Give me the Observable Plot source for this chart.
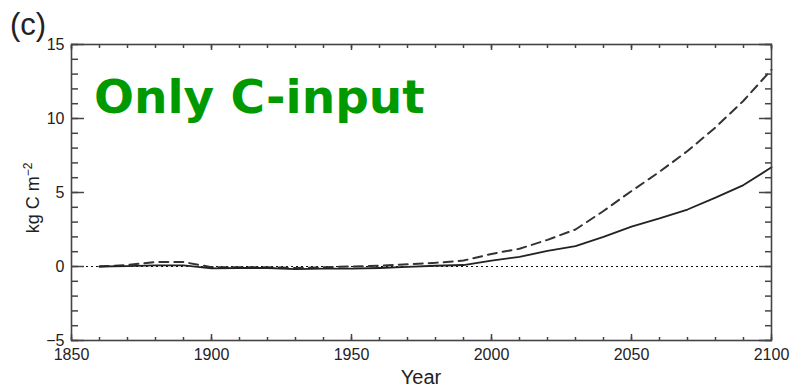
<!DOCTYPE html>
<html>
<head>
<meta charset="utf-8">
<script src="https://cdn.jsdelivr.net/npm/d3@7"></script>
<script src="https://cdn.jsdelivr.net/npm/@observablehq/plot@0.6"></script>
<style>
  html, body { margin: 0; padding: 0; background: #fff; }
  #chart svg { display: block; }
</style>
</head>
<body>
<div id="chart"></div>
<script>
// Simulated carbon change, kg C per square metre, by decade
const years = [1860, 1870, 1880, 1890, 1900, 1910, 1920, 1930, 1940, 1950, 1960, 1970, 1980,
               1990, 2000, 2010, 2020, 2030, 2040, 2050, 2060, 2070, 2080, 2090, 2100];
const solidSeries = [0, 0.02, 0.08, 0.08, -0.12, -0.1, -0.1, -0.18, -0.15, -0.15, -0.1, -0.02, 0.05,
                     0.1, 0.4, 0.65, 1.05, 1.37, 2.0, 2.7, 3.25, 3.85, 4.65, 5.5, 6.7];
const dashedSeries = [0, 0.1, 0.3, 0.3, -0.05, -0.05, -0.05, -0.1, -0.05, 0, 0.05, 0.15, 0.25,
                      0.4, 0.85, 1.2, 1.8, 2.5, 3.75, 5.1, 6.4, 7.8, 9.4, 11.2, 13.3];

// Axis ticks
const xMajor = [1850, 1900, 1950, 2000, 2050, 2100];
const xMinor = d3.range(1850, 2101, 10);
const yMajor = [-5, 0, 5, 10, 15];
const yMinor = d3.range(-5, 16, 1);

const solid = years.map((year, i) => ({year, value: solidSeries[i]}));
const dashed = years.map((year, i) => ({year, value: dashedSeries[i]}));

const axisColor = "#444";
const W = 792, H = 388;

const plot = Plot.plot({
  width: W,
  height: H,
  marginLeft: 71,
  marginRight: 21,
  marginTop: 44,
  marginBottom: 48,
  style: {fontFamily: "'Liberation Sans', Arial, sans-serif", color: "#222", background: "#fff"},
  x: {domain: [1850, 2100]},
  y: {domain: [-5, 15]},
  marks: [
    Plot.ruleY([0], {stroke: "#111", strokeWidth: 1.2, strokeDasharray: "2,3"}),
    Plot.line(dashed, {x: "year", y: "value", stroke: "#333", strokeWidth: 2, strokeDasharray: "9,6"}),
    Plot.line(solid, {x: "year", y: "value", stroke: "#222", strokeWidth: 1.8}),
    Plot.frame({stroke: axisColor, strokeWidth: 1.6}),
    // tick labels
    Plot.axisX({anchor: "bottom", ticks: xMajor, tickFormat: d => String(d), tickSize: 0, tickPadding: 8, fontSize: 16, label: null}),
    Plot.axisY({anchor: "left", ticks: yMajor, tickFormat: d => (d < 0 ? "\u2212" + Math.abs(d) : String(d)), tickSize: 0, tickPadding: 7, fontSize: 16, label: null}),
    // inward tick marks on all four sides
    Plot.axisX({anchor: "bottom", ticks: xMajor, tickSize: -6, fill: "none", stroke: axisColor, strokeWidth: 1.5, label: null}),
    Plot.axisX({anchor: "bottom", ticks: xMinor, tickSize: -3, fill: "none", stroke: axisColor, strokeWidth: 1.5, label: null}),
    Plot.axisX({anchor: "top", ticks: xMajor, tickSize: -5, fill: "none", stroke: axisColor, strokeWidth: 1.5, label: null}),
    Plot.axisX({anchor: "top", ticks: xMinor, tickSize: -3, fill: "none", stroke: axisColor, strokeWidth: 1.5, label: null}),
    Plot.axisY({anchor: "left", ticks: yMajor, tickSize: -13, fill: "none", stroke: axisColor, strokeWidth: 1.5, label: null}),
    Plot.axisY({anchor: "left", ticks: yMinor, tickSize: -7, fill: "none", stroke: axisColor, strokeWidth: 1.5, label: null}),
    Plot.axisY({anchor: "right", ticks: yMajor, tickSize: -13, fill: "none", stroke: axisColor, strokeWidth: 1.5, label: null}),
    Plot.axisY({anchor: "right", ticks: yMinor, tickSize: -7, fill: "none", stroke: axisColor, strokeWidth: 1.5, label: null})
  ]
});

const svg = d3.select(plot);

// Panel letter
svg.append("text")
  .attr("x", 10).attr("y", 35)
  .attr("text-anchor", "start")
  .attr("font-size", 31)
  .attr("font-family", "'Liberation Sans', Arial, sans-serif")
  .attr("fill", "#222")
  .text("(c)");

// Scenario annotation
svg.append("text")
  .attr("x", 94).attr("y", 113)
  .attr("text-anchor", "start")
  .attr("font-size", 47)
  .attr("font-weight", "bold")
  .attr("font-family", "'DejaVu Sans', Verdana, sans-serif")
  .attr("fill", "#009a00")
  .text("Only C-input");

// Axis titles
svg.append("text")
  .attr("x", 421).attr("y", 384)
  .attr("text-anchor", "middle")
  .attr("font-size", 20)
  .attr("font-family", "'Liberation Sans', Arial, sans-serif")
  .attr("fill", "#222")
  .text("Year");

const yTitle = svg.append("text")
  .attr("transform", "translate(39,198) rotate(-90)")
  .attr("text-anchor", "middle")
  .attr("font-size", 18)
  .attr("font-family", "'Liberation Sans', Arial, sans-serif")
  .attr("fill", "#222");
yTitle.append("tspan").text("kg C m");
yTitle.append("tspan").attr("dy", -7).attr("font-size", 12).text("\u22122");

document.getElementById("chart").appendChild(plot);
</script>
</body>
</html>
